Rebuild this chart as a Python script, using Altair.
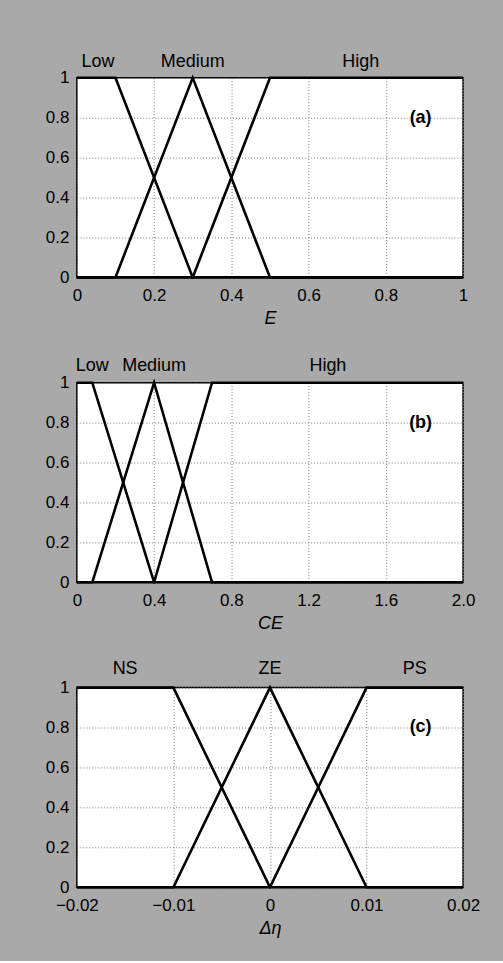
import altair as alt
import pandas as pd

# ---------------- data ----------------
# Panel (a): E
E_LOW_X = [0.0, 0.1, 0.3, 1.0]
E_LOW_Y = [1, 1, 0, 0]
E_MED_X = [0.0, 0.1, 0.3, 0.5, 1.0]
E_MED_Y = [0, 0, 1, 0, 0]
E_HIGH_X = [0.0, 0.3, 0.5, 1.0]
E_HIGH_Y = [0, 0, 1, 1]
E_LABELS = ["Low", "Medium", "High"]
E_LABEL_X = [0.055, 0.30, 0.735]
E_TICKS = [0, 0.2, 0.4, 0.6, 0.8, 1.0]

# Panel (b): CE
CE_LOW_X = [0.0, 0.08, 0.4, 2.0]
CE_LOW_Y = [1, 1, 0, 0]
CE_MED_X = [0.0, 0.08, 0.4, 0.7, 2.0]
CE_MED_Y = [0, 0, 1, 0, 0]
CE_HIGH_X = [0.0, 0.4, 0.7, 2.0]
CE_HIGH_Y = [0, 0, 1, 1]
CE_LABELS = ["Low", "Medium", "High"]
CE_LABEL_X = [0.08, 0.40, 1.30]
CE_TICKS = [0, 0.4, 0.8, 1.2, 1.6, 2.0]

# Panel (c): delta eta
DN_NS_X = [-0.02, -0.01, 0.0, 0.02]
DN_NS_Y = [1, 1, 0, 0]
DN_ZE_X = [-0.02, -0.01, 0.0, 0.01, 0.02]
DN_ZE_Y = [0, 0, 1, 0, 0]
DN_PS_X = [-0.02, 0.0, 0.01, 0.02]
DN_PS_Y = [0, 0, 1, 1]
DN_LABELS = ["NS", "ZE", "PS"]
DN_LABEL_X = [-0.015, 0.0, 0.015]
DN_TICKS = [-0.02, -0.01, 0.0, 0.01, 0.02]

Y_TICKS = [0, 0.2, 0.4, 0.6, 0.8, 1.0]
PANEL_TAGS = ["(a)", "(b)", "(c)"]
TAG_X = [0.89, 1.78, 0.0156]
TAG_Y = 0.8

FONT = "Liberation Sans"
BG = "#a9a9a9"

Y_EXPR = "abs(datum.value) < 1e-9 ? '0' : abs(datum.value - 1) < 1e-9 ? '1' : format(datum.value, '.1f')"


def series_df(names, xs, ys):
    rows = []
    for n, xv, yv in zip(names, xs, ys):
        for i, (a, b) in enumerate(zip(xv, yv)):
            rows.append({"set": n, "x": a, "y": b, "order": i})
    return pd.DataFrame(rows)


def panel(df, labels, label_x, domain, ticks, label_expr, title, tag, tag_x, label_dy):
    xscale = alt.Scale(domain=domain, nice=False, zero=False)
    yscale = alt.Scale(domain=[0, 1], nice=False, zero=False)
    xaxis = alt.Axis(values=ticks, labelExpr=label_expr, title=title,
                     labelOverlap=False, labelFlush=False)
    yaxis = alt.Axis(values=Y_TICKS, labelExpr=Y_EXPR, title=None,
                     labelOverlap=False, labelFlush=False)
    X = alt.X("x:Q", scale=xscale, axis=xaxis)
    Y = alt.Y("y:Q", scale=yscale, axis=yaxis)
    lines = alt.Chart(df).mark_line(color="black", strokeWidth=2.6).encode(
        x=X, y=Y, detail="set:N", order="order:Q",
    )
    lab_df = pd.DataFrame({"label": labels, "x": label_x, "y": [1.0] * len(labels)})
    labs = alt.Chart(lab_df).mark_text(
        font=FONT, fontSize=18, color="black", baseline="alphabetic", dy=label_dy
    ).encode(x=X, y=Y, text="label:N")
    tag_df = pd.DataFrame({"label": [tag], "x": [tag_x], "y": [TAG_Y]})
    tg = alt.Chart(tag_df).mark_text(
        font=FONT, fontSize=18, fontWeight="bold", color="black", baseline="middle"
    ).encode(x=X, y=Y, text="label:N")
    return alt.layer(lines, labs, tg).properties(width=387, height=200)


df_a = series_df(E_LABELS, [E_LOW_X, E_MED_X, E_HIGH_X], [E_LOW_Y, E_MED_Y, E_HIGH_Y])
df_b = series_df(CE_LABELS, [CE_LOW_X, CE_MED_X, CE_HIGH_X], [CE_LOW_Y, CE_MED_Y, CE_HIGH_Y])
df_c = series_df(DN_LABELS, [DN_NS_X, DN_ZE_X, DN_PS_X], [DN_NS_Y, DN_ZE_Y, DN_PS_Y])

expr_a = Y_EXPR
expr_b = "abs(datum.value) < 1e-9 ? '0' : format(datum.value, '.1f')"
expr_c = "abs(datum.value) < 1e-9 ? '0' : format(datum.value, '.2f')"

pa = panel(df_a, E_LABELS, E_LABEL_X, [0, 1], E_TICKS, expr_a, "E", PANEL_TAGS[0], TAG_X[0], -11)
pb = panel(df_b, CE_LABELS, CE_LABEL_X, [0, 2], CE_TICKS, expr_b, "CE", PANEL_TAGS[1], TAG_X[1], -12)
pc = panel(df_c, DN_LABELS, DN_LABEL_X, [-0.02, 0.02], DN_TICKS, expr_c, "Δη", PANEL_TAGS[2], TAG_X[2], -14)

chart = alt.vconcat(pa, pb, pc, spacing=105.5, bounds="flush").properties(
    background=BG,
    padding={"left": 44, "top": 51, "right": 22, "bottom": 22},
).configure_view(
    stroke="black", strokeWidth=1.5, fill="white"
).configure_axis(
    grid=True,
    gridColor="#7a7a7a",
    gridDash=[1, 2],
    gridWidth=1,
    domain=False,
    ticks=False,
    labelOverlap=False,
    labelFlush=False,
    labelFont=FONT,
    labelFontSize=17,
    labelColor="black",
    titleFont=FONT,
    titleFontSize=18,
    titleFontStyle="italic",
    titleFontWeight="normal",
    titleColor="black",
).configure_axisX(
    labelPadding=10, titlePadding=6
).configure_axisY(
    labelPadding=8
)

chart.save("out.html", embed_options={"renderer": "svg", "actions": False})
